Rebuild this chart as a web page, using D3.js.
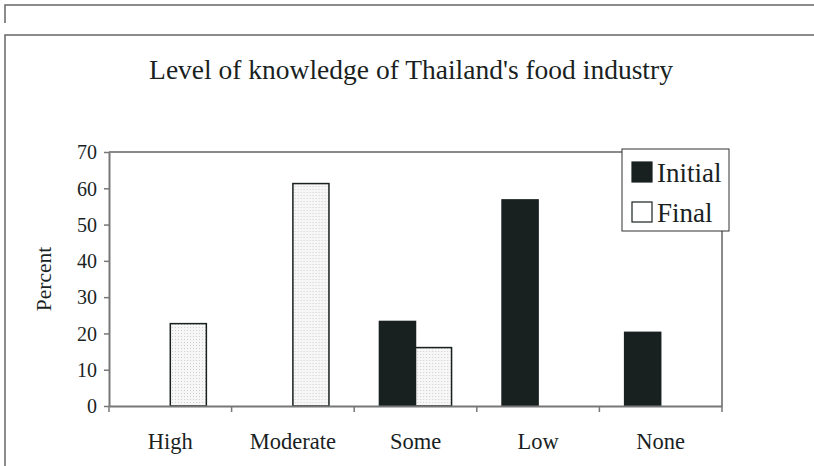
<!DOCTYPE html>
<html>
<head>
<meta charset="utf-8">
<script src="https://cdn.jsdelivr.net/npm/d3@7"></script>
<style>
  body { margin: 0; background: #fff; }
  svg { display: block; }
  svg text { font-family: "Liberation Serif", serif; fill: #1a1f1f; }
</style>
</head>
<body>
<div id="chart"></div>
<script>
// Chart data
const categories = ['High', 'Moderate', 'Some', 'Low', 'None'];
const seriesNames = ['Initial', 'Final'];
const initialValues = [0, 0, 23.3, 56.8, 20.3];
const finalValues = [22.7, 61.3, 16.1, 0, 0];
const yTicks = [0, 10, 20, 30, 40, 50, 60, 70];

const W = 814, H = 466;
const plot = {left: 109, right: 722, top: 152, bottom: 406};
const serif = 'Liberation Serif';

const svg = d3.select('#chart').append('svg')
    .attr('width', W)
    .attr('height', H);

// dotted fill for the "Final" bars
const defs = svg.append('defs');
const pat = defs.append('pattern')
    .attr('id', 'dots')
    .attr('width', 3)
    .attr('height', 3)
    .attr('patternUnits', 'userSpaceOnUse');
pat.append('rect').attr('width', 3).attr('height', 3).attr('fill', '#f7f7f7');
pat.append('rect').attr('width', 1).attr('height', 1).attr('fill', '#cfcfcf');

// outer frames
svg.append('path')
    .attr('d', `M5,23 V5 H${W}`)
    .attr('fill', 'none')
    .attr('stroke', '#666')
    .attr('stroke-width', 1.5);
svg.append('path')
    .attr('d', `M5,${H} V35 H${W}`)
    .attr('fill', 'none')
    .attr('stroke', '#666')
    .attr('stroke-width', 1.5);

// title
svg.append('text')
    .attr('x', 411)
    .attr('y', 79)
    .attr('text-anchor', 'middle')
    .style('font-family', serif)
    .style('font-size', '27.5px')
    .text("Level of knowledge of Thailand's food industry");

const x0 = d3.scaleBand()
    .domain(categories)
    .range([plot.left, plot.right]);

const x1 = d3.scaleBand()
    .domain(seriesNames)
    .range([0, x0.bandwidth()])
    .paddingInner(0)
    .paddingOuter(0.7);

const y = d3.scaleLinear()
    .domain([0, 70])
    .range([plot.bottom, plot.top]);

// plot area border (top and right)
svg.append('path')
    .attr('d', `M${plot.left},${plot.top} H${plot.right} V${plot.bottom}`)
    .attr('fill', 'none')
    .attr('stroke', '#8a8a8a')
    .attr('stroke-width', 2);

// bars
const rows = categories.map((c, i) => ({cat: c, Initial: initialValues[i], Final: finalValues[i]}));

const groups = svg.selectAll('.grp')
    .data(rows)
    .enter().append('g')
    .attr('class', 'grp')
    .attr('transform', d => `translate(${x0(d.cat)},0)`);

groups.selectAll('rect')
    .data(d => seriesNames.map(s => ({s, v: d[s]})).filter(e => e.v > 0))
    .enter().append('rect')
    .attr('x', d => x1(d.s))
    .attr('y', d => y(d.v))
    .attr('width', x1.bandwidth())
    .attr('height', d => y(0) - y(d.v))
    .attr('fill', d => d.s === 'Initial' ? '#182020' : 'url(#dots)')
    .attr('stroke', '#182020')
    .attr('stroke-width', 1.5);

// y axis
const yAxis = svg.append('g')
    .attr('transform', `translate(${plot.left},0)`)
    .call(d3.axisLeft(y).tickValues(yTicks).tickSize(5).tickSizeOuter(0));
yAxis.attr('font-family', serif);
yAxis.select('.domain').attr('stroke', '#777').attr('stroke-width', 2);
yAxis.selectAll('.tick line').attr('stroke', '#777').attr('stroke-width', 1.5);
yAxis.selectAll('.tick text')
    .attr('x', -12)
    .attr('dy', '0.34em')
    .style('font-family', serif)
    .style('font-size', '20px');

// x axis
const xAxis = svg.append('g')
    .attr('transform', `translate(0,${plot.bottom})`)
    .call(d3.axisBottom(x0).tickSize(0).tickSizeOuter(0));
xAxis.attr('font-family', serif);
xAxis.select('.domain').attr('stroke', '#777').attr('stroke-width', 2);
xAxis.selectAll('.tick text')
    .attr('y', 27)
    .style('font-family', serif)
    .style('font-size', '22.5px');

// category boundary ticks
svg.selectAll('.btick')
    .data(categories.concat(['end']))
    .enter().append('line')
    .attr('class', 'btick')
    .attr('x1', (d, i) => i < categories.length ? x0(d) : plot.right)
    .attr('x2', (d, i) => i < categories.length ? x0(d) : plot.right)
    .attr('y1', plot.bottom)
    .attr('y2', plot.bottom + 6)
    .attr('stroke', '#777')
    .attr('stroke-width', 1.5);

// y axis title
svg.append('text')
    .attr('transform', `translate(51,${(plot.top + plot.bottom) / 2}) rotate(-90)`)
    .attr('text-anchor', 'middle')
    .style('font-family', serif)
    .style('font-size', '21.5px')
    .text('Percent');

// legend
const legend = svg.append('g').attr('transform', 'translate(622,149)');
legend.append('rect')
    .attr('width', 107)
    .attr('height', 82)
    .attr('fill', '#fff')
    .attr('stroke', '#333')
    .attr('stroke-width', 1);

seriesNames.forEach((s, i) => {
    legend.append('rect')
        .attr('x', 10)
        .attr('y', 13 + i * 40)
        .attr('width', 20)
        .attr('height', 20)
        .attr('fill', s === 'Initial' ? '#182020' : '#fff')
        .attr('stroke', '#182020')
        .attr('stroke-width', 1.2);
    legend.append('text')
        .attr('x', 35)
        .attr('y', 33 + i * 40)
        .style('font-family', serif)
        .style('font-size', '27px')
        .text(s);
});
</script>
</body>
</html>
